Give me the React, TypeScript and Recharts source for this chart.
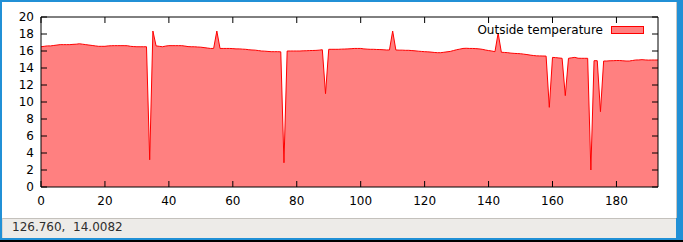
import { Area, AreaChart, Legend, XAxis, YAxis } from "recharts";

// outside temperature, one sample per x step (0..193)
const temps = [
  16.5, 16.55, 16.6, 16.6, 16.65, 16.7, 16.75, 16.75, 16.75, 16.75,
  16.78, 16.8, 16.85, 16.8, 16.75, 16.7, 16.65, 16.6, 16.55, 16.55,
  16.55, 16.6, 16.62, 16.63, 16.63, 16.63, 16.63, 16.62, 16.55, 16.52,
  16.5, 16.5, 16.5, 16.5, 3.2, 18.35, 16.6, 16.55, 16.5, 16.58,
  16.63, 16.63, 16.63, 16.63, 16.63, 16.58, 16.52, 16.5, 16.5, 16.47,
  16.45, 16.4, 16.35, 16.3, 16.3, 18.35, 16.3, 16.3, 16.3, 16.3,
  16.28, 16.25, 16.25, 16.22, 16.2, 16.15, 16.12, 16.1, 16.05, 16.0,
  15.98, 15.95, 15.92, 15.92, 15.92, 15.9, 2.85, 16.0, 16.0, 16.0,
  16.0, 16.0, 16.02, 16.03, 16.05, 16.06, 16.07, 16.1, 16.15, 10.98,
  16.2, 16.2, 16.2, 16.2, 16.22, 16.23, 16.25, 16.27, 16.3, 16.3,
  16.3, 16.25, 16.22, 16.2, 16.2, 16.18, 16.17, 16.15, 16.12, 16.12,
  18.35, 16.12, 16.1, 16.1, 16.08, 16.08, 16.05, 16.02, 15.98, 15.95,
  15.92, 15.9, 15.87, 15.83, 15.8, 15.8, 15.85, 15.9, 15.95, 16.05,
  16.15, 16.22, 16.3, 16.32, 16.3, 16.3, 16.28, 16.25, 16.2, 16.12,
  16.05, 16.0, 15.92, 18.1, 15.85, 15.83, 15.8, 15.75, 15.72, 15.7,
  15.68, 15.63, 15.58, 15.52, 15.47, 15.43, 15.42, 15.41, 15.4, 9.37,
  15.25, 15.22, 15.18, 15.14, 10.75, 15.14, 15.2, 15.25, 15.15, 15.14,
  15.14, 15.14, 2.0, 14.86, 14.86, 8.86, 14.82, 14.82, 14.85, 14.86,
  14.88, 14.88, 14.85, 14.82, 14.82, 14.88, 14.94, 14.95, 14.98, 14.95,
  14.93, 14.94, 14.94, 14.94,
];

const xTicks = [0, 20, 40, 60, 80, 100, 120, 140, 160, 180];
const yTicks = [0, 2, 4, 6, 8, 10, 12, 14, 16, 18, 20];
const seriesName = "Outside temperature";
const statusText = "126.760,  14.0082";

const data = temps.map((t, i) => ({ x: i, temp: t }));

const FONT = "'DejaVu Sans', sans-serif";
const BLUE = "#2190d6";
const tickStyle = { fill: "#000", fontSize: 12, fontFamily: FONT };
const blank = () => "";

function GnuLegend() {
  return (
    <div style={{ position: "relative", width: 180, height: 16, fontFamily: FONT, fontSize: 12 }}>
      <span style={{ position: "absolute", right: 47, top: 0, lineHeight: "16px", whiteSpace: "nowrap", color: "#000" }}>
        {seriesName}
      </span>
      <div
        style={{
          position: "absolute",
          left: 141,
          top: 4,
          width: 33,
          height: 8,
          boxSizing: "border-box",
          background: "#ff8080",
          border: "1px solid #ff0000",
        }}
      />
    </div>
  );
}

export default function App() {
  return (
    <div style={{ position: "fixed", left: 0, top: 0, width: 683, height: 242, background: "#000", overflow: "hidden" }}>
      <div style={{ position: "absolute", left: 0, top: 0, width: 683, height: 240, background: BLUE }} />
      <div style={{ position: "absolute", left: 2, top: 2, width: 674, height: 216, background: "#fff", borderRight: "1px solid #c8c6c2" }} />
      <div
        style={{
          position: "absolute",
          left: 2,
          top: 218,
          width: 674,
          height: 20,
          background: "#edebe8",
          borderTop: "1px solid #c4c1bc",
          borderLeft: "1px solid #d8d6d2",
          boxSizing: "border-box",
        }}
      />
      <div
        style={{
          position: "absolute",
          left: 12,
          top: 217,
          height: 20,
          lineHeight: "20px",
          fontFamily: FONT,
          fontSize: 12,
          color: "#2e2e2e",
          whiteSpace: "pre",
        }}
      >
        {statusText}
      </div>
      <div style={{ position: "absolute", left: 0, top: 0 }}>
        <AreaChart width={683} height={215} data={data} margin={{ top: 0, right: 0, bottom: 0, left: 0 }}>
          <XAxis
            xAxisId="b"
            dataKey="x"
            type="number"
            domain={[0, 193]}
            allowDataOverflow
            ticks={xTicks}
            interval={0}
            height={28}
            stroke="#000"
            tickSize={-6}
            tickMargin={15}
            tick={tickStyle}
          />
          <XAxis
            xAxisId="t"
            orientation="top"
            type="number"
            domain={[0, 193]}
            allowDataOverflow
            ticks={xTicks}
            interval={0}
            height={17}
            stroke="#000"
            tickSize={-6}
            tickFormatter={blank}
          />
          <YAxis
            yAxisId="l"
            type="number"
            domain={[0, 20]}
            allowDataOverflow
            ticks={yTicks}
            interval={0}
            width={41}
            stroke="#000"
            tickSize={-6}
            tickMargin={13}
            tick={tickStyle}
          />
          <YAxis
            yAxisId="r"
            orientation="right"
            type="number"
            domain={[0, 20]}
            allowDataOverflow
            ticks={yTicks}
            interval={0}
            width={25}
            stroke="#000"
            tickSize={-6}
            tickFormatter={blank}
          />
          <Legend
            layout="horizontal"
            verticalAlign="middle"
            align="center"
            wrapperStyle={{ left: 470, top: 22, width: 180, height: 16 }}
            content={() => <GnuLegend />}
          />
          <Area
            xAxisId="b"
            yAxisId="l"
            type="linear"
            dataKey="temp"
            name={seriesName}
            stroke="#ff0000"
            strokeWidth={1}
            fill="#ff8080"
            fillOpacity={1}
            isAnimationActive={false}
            dot={false}
            activeDot={false}
          />
        </AreaChart>
      </div>
    </div>
  );
}
